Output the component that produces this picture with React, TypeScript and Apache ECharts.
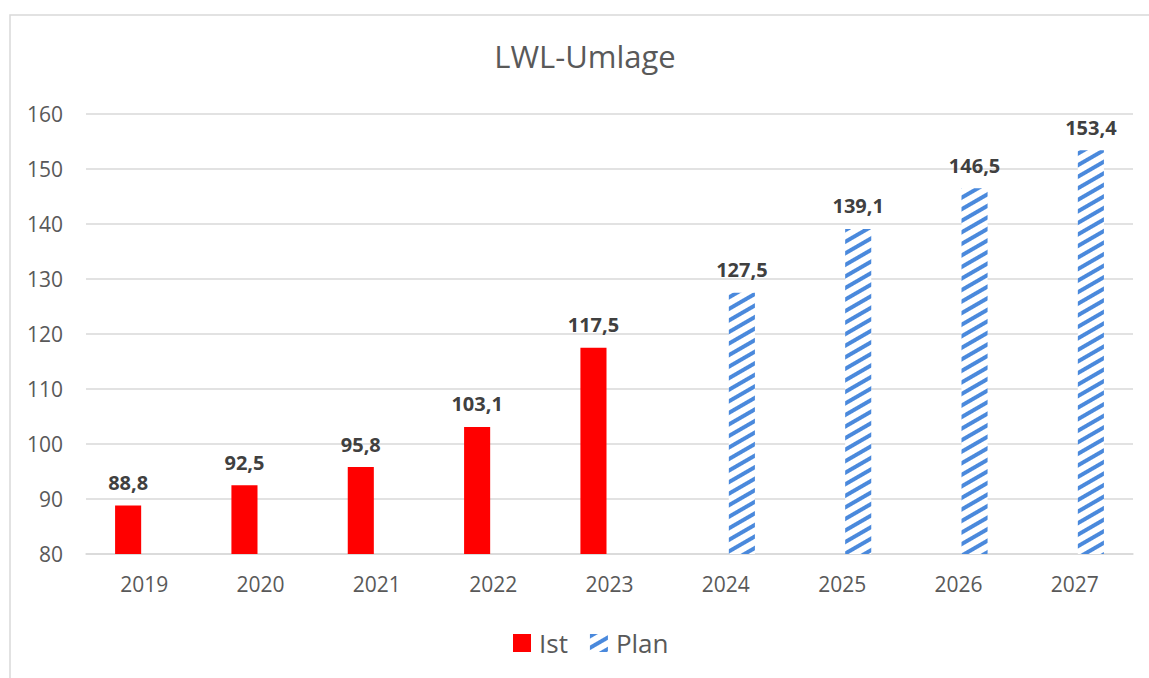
import React, { useEffect, useRef } from "react";
import * as echarts from "echarts";

const years = ["2019", "2020", "2021", "2022", "2023", "2024", "2025", "2026", "2027"];
const istValues = [88.8, 92.5, 95.8, 103.1, 117.5, null, null, null, null];
const planValues = [null, null, null, null, null, 127.5, 139.1, 146.5, 153.4];
const yTicks = { min: 80, max: 160, interval: 10 };
const titleText = "LWL-Umlage";
const seriesNames = ["Ist", "Plan"];

const FONT = "'Open Sans', 'Noto Sans', sans-serif";
const fmt = (v: number) => v.toFixed(1).replace(".", ",");

export default function App() {
  const ref = useRef<HTMLDivElement>(null);
  useEffect(() => {
    if (!ref.current) return;
    const chart = echarts.init(ref.current, undefined, { renderer: "svg" });
    const labelCfg = {
      show: true,
      position: "top" as const,
      distance: 13,
      fontFamily: FONT,
      fontWeight: "bold" as const,
      fontSize: 20,
      color: "#404040",
      formatter: (p: any) => fmt(p.value),
    };
    chart.setOption({
      animation: false,
      backgroundColor: "#ffffff",
      textStyle: { fontFamily: FONT },
      title: {
        text: titleText,
        left: 580,
        top: 35,
        textAlign: "center",
        textStyle: { fontFamily: FONT, fontSize: 31, fontWeight: "normal", color: "#595959" },
      },
      graphic: [
        {
          type: "rect",
          shape: { x: 10, y: 15, width: 1170, height: 700 },
          style: { fill: "none", stroke: "#d9d9d9", lineWidth: 1.5 },
          silent: true,
        },
      ],
      legend: {
        left: 508,
        top: 625,
        itemWidth: 18,
        itemHeight: 18,
        itemGap: 22,
        icon: "rect",
        textStyle: { fontFamily: FONT, fontSize: 26, color: "#595959", padding: [0, 0, 0, 3] },
        data: seriesNames,
      },
      grid: { left: 86, right: 16, top: 114, bottom: 124, containLabel: false },
      xAxis: {
        type: "category",
        data: years,
        axisTick: { show: false },
        axisLine: { lineStyle: { color: "#d9d9d9", width: 1.5 } },
        axisLabel: { fontFamily: FONT, fontSize: 21, color: "#595959", margin: 19 },
      },
      yAxis: {
        type: "value",
        min: yTicks.min,
        max: yTicks.max,
        interval: yTicks.interval,
        axisLine: { show: false },
        axisTick: { show: false },
        splitLine: { lineStyle: { color: "#d9d9d9", width: 1.5 } },
        axisLabel: { fontFamily: FONT, fontSize: 21, color: "#595959", margin: 23 },
      },
      series: [
        {
          name: seriesNames[0],
          type: "bar",
          data: istValues,
          barCategoryGap: "50%",
          barGap: "23%",
          itemStyle: { color: "#ff0000" },
          label: labelCfg,
        },
        {
          name: seriesNames[1],
          type: "bar",
          data: planValues,
          barCategoryGap: "50%",
          barGap: "23%",
          itemStyle: {
            color: "#ffffff",
            decal: {
              symbol: "rect",
              symbolSize: 1,
              color: "#4a89dc",
              dashArrayX: [1, 0],
              dashArrayY: [4, 6],
              rotation: -Math.PI / 6,
            },
          },
          label: labelCfg,
        },
      ],
    });
    return () => chart.dispose();
  }, []);
  return (
    <div style={{ position: "fixed", left: 0, top: 0, width: 1149, height: 678, overflow: "hidden", background: "#fff" }}>
      <div ref={ref} style={{ width: 1149, height: 678 }} />
    </div>
  );
}
